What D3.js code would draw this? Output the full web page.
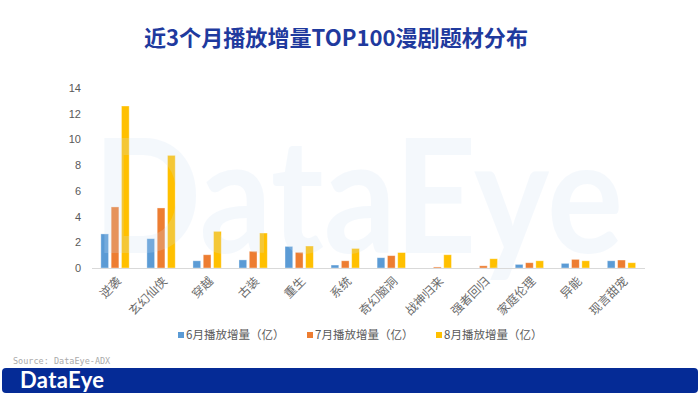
<!DOCTYPE html>
<meta charset="utf-8">
<title>漫剧题材分布</title>
<script src="https://cdn.jsdelivr.net/npm/d3@7"></script>
<style>
  body { margin: 0; background: #fff; }
  svg text { font-family: "Noto Sans CJK SC", "Noto Sans", sans-serif; }
</style>
<div id="chart"></div>
<script>
  // categories + series (亿)
  var categories = ["逆袭", "玄幻仙侠", "穿越", "古装", "重生", "系统", "奇幻脑洞", "战神归来", "强者回归", "家庭伦理", "异能", "现言甜宠"];
  var june = [2.65, 2.28, 0.56, 0.63, 1.68, 0.23, 0.80, 0, 0, 0.28, 0.36, 0.56];
  var july = [4.75, 4.67, 1.03, 1.30, 1.22, 0.56, 0.96, 0.08, 0.17, 0.41, 0.67, 0.62];
  var august = [12.6, 8.76, 2.85, 2.72, 1.71, 1.52, 1.20, 1.03, 0.72, 0.56, 0.56, 0.41];
  var yTicks = [0, 2, 4, 6, 8, 10, 12, 14];
  var seriesNames = ["6月播放增量（亿）", "7月播放增量（亿）", "8月播放增量（亿）"];
  var colors = ["#5B9BD5", "#ED7D31", "#FFC000"];

  var width = 700, height = 394;
  var svg = d3.select("#chart").append("svg")
    .attr("width", width)
    .attr("height", height);

  // title
  svg.append("text")
    .attr("x", 336).attr("y", 46)
    .attr("text-anchor", "middle")
    .attr("font-size", 22)
    .attr("font-weight", "bold")
    .attr("fill", "#1F3A9E")
    .attr("textLength", 384)
    .attr("lengthAdjust", "spacingAndGlyphs")
    .text("近3个月播放增量TOP100漫剧题材分布");

  var x = d3.scaleBand()
    .domain(categories)
    .range([92, 644.5]);

  var keys = [0, 1, 2];
  var xSub = d3.scaleBand()
    .domain(keys)
    .range([0, x.bandwidth()])
    .paddingInner(0.25)
    .paddingOuter(0.86);

  var y = d3.scaleLinear()
    .domain([0, 14])
    .range([268, 88]);

  // y axis labels only (no line, no grid)
  var yAxis = svg.append("g")
    .attr("transform", "translate(85,0)")
    .call(d3.axisLeft(y).tickValues(yTicks).tickSize(0).tickPadding(4));
  yAxis.select(".domain").remove();
  yAxis.selectAll("text")
    .attr("font-size", 11)
    .attr("fill", "#595959")
    .style("font-family", "'Liberation Sans', Arial, sans-serif");

  // bars
  var rows = categories.map(function (c, i) {
    return { cat: c, vals: [june[i], july[i], august[i]] };
  });

  var groups = svg.append("g").selectAll("g")
    .data(rows)
    .enter().append("g")
    .attr("transform", function (d) { return "translate(" + x(d.cat) + ",0)"; });

  groups.selectAll("rect")
    .data(function (d) { return d.vals.map(function (v, k) { return { k: k, v: v }; }); })
    .enter().append("rect")
    .filter(function (d) { return d.v > 0; })
    .attr("x", function (d) { return xSub(d.k); })
    .attr("width", xSub.bandwidth())
    .attr("y", function (d) { return y(d.v); })
    .attr("height", function (d) { return y(0) - y(d.v); })
    .attr("fill", function (d) { return colors[d.k]; })
    .attr("stroke", "#fff")
    .attr("stroke-opacity", 0.45)
    .attr("stroke-width", 0.8);

  // watermark, faint, sits over the plot
  svg.append("text")
    .attr("x", 93).attr("y", 253)
    .attr("textLength", 530)
    .attr("lengthAdjust", "spacingAndGlyphs")
    .attr("font-size", 160)
    .attr("font-weight", "bold")
    .attr("fill", "#cfe2f6")
    .attr("opacity", 0.22)
    .style("font-family", "Lato, sans-serif")
    .text("DataEye");

  // x axis
  var xAxis = svg.append("g")
    .attr("transform", "translate(0," + y(0) + ")")
    .call(d3.axisBottom(x).tickSize(0).tickPadding(0));
  xAxis.select(".domain")
    .attr("d", "M92,0.5H645")
    .attr("stroke", "#D9D9D9");
  xAxis.selectAll("text")
    .attr("font-size", 12)
    .attr("fill", "#6b6b6b")
    .attr("text-anchor", "end")
    .attr("dy", "0.35em")
    .attr("transform", "translate(4,11) rotate(-45)");

  // legend
  var legendX = [178, 307, 436];
  var legend = svg.append("g").selectAll("g")
    .data(seriesNames)
    .enter().append("g")
    .attr("transform", function (d, i) { return "translate(" + legendX[i] + ",332)"; });
  legend.append("rect")
    .attr("width", 6).attr("height", 6)
    .attr("fill", function (d, i) { return colors[i]; });
  legend.append("text")
    .attr("x", 8).attr("y", 3)
    .attr("dy", "0.35em")
    .attr("font-size", 11.5)
    .attr("fill", "#595959")
    .text(function (d) { return d; });

  // footer
  svg.append("text")
    .attr("x", 13).attr("y", 364)
    .attr("font-size", 8.5)
    .attr("fill", "#AAAAAA")
    .style("font-family", "'DejaVu Sans Mono', monospace")
    .text("Source: DataEye-ADX");

  svg.append("rect")
    .attr("x", 2).attr("y", 368)
    .attr("width", 696).attr("height", 25)
    .attr("rx", 4)
    .attr("fill", "#052B96");

  svg.append("text")
    .attr("x", 20).attr("y", 388)
    .attr("font-size", 22)
    .attr("font-weight", "bold")
    .attr("fill", "#fff")
    .attr("textLength", 84)
    .style("font-family", "Lato, sans-serif")
    .text("DataEye");
</script>
